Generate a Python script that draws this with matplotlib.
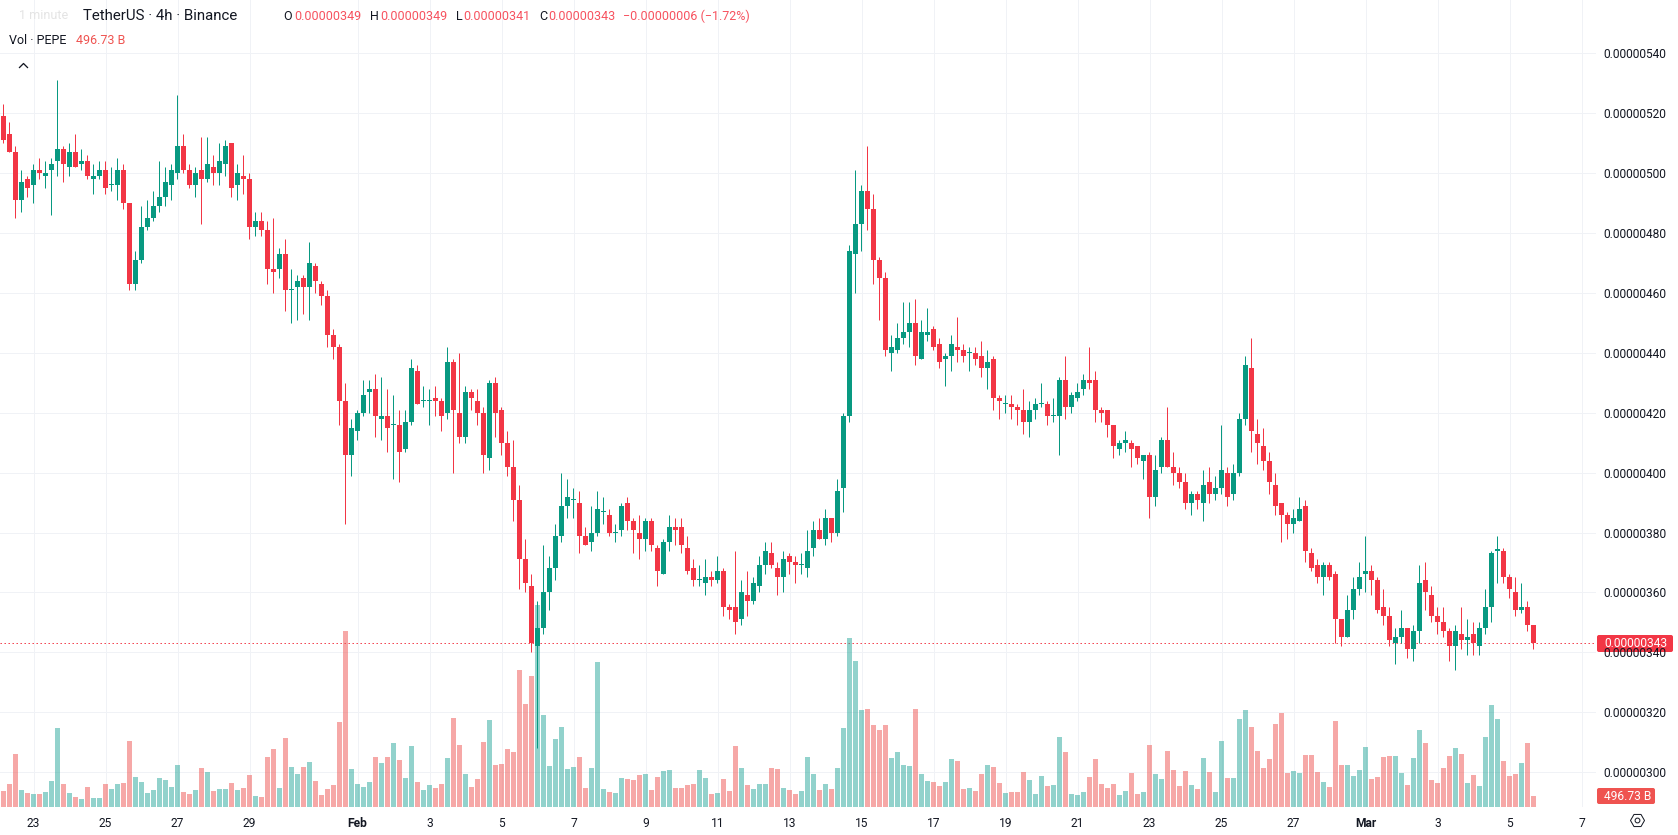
#!/usr/bin/python3

'''
PEPE/USDT 4h candlestick chart with volume overlay
'''

import numpy as np
import matplotlib
matplotlib.use('Agg')
import matplotlib.pyplot as plt
from matplotlib.patches import Circle, FancyBboxPatch, Polygon, Rectangle, RegularPolygon
from matplotlib.lines import Line2D
from matplotlib.transforms import Affine2D

# prices in units of 0.00000001 USDT
opens = [519, 513, 507, 491, 498, 496, 501, 499, 501, 504,
         508, 502, 507, 503, 504, 498, 499, 501, 496, 496,
         501, 490, 463, 471, 482, 485, 489, 492, 496, 500,
         509, 501, 496, 501, 498, 502, 500, 503, 510, 496,
         499, 498, 482, 484, 481, 468, 468, 473, 461, 462,
         465, 462, 469, 463, 459, 446, 442, 424, 406, 414,
         420, 427, 428, 418, 419, 416, 416, 408, 417, 434,
         424, 424, 425, 424, 420, 437, 420, 412, 427, 424,
         420, 405, 430, 421, 410, 402, 391, 371, 362, 342,
         348, 360, 368, 379, 389, 391, 390, 379, 377, 380,
         387, 386, 380, 381, 390, 384, 380, 378, 384, 375,
         366, 377, 382, 382, 375, 368, 364, 363, 365, 364,
         367, 355, 355, 351, 359, 357, 362, 369, 373, 368,
         365, 372, 370, 369, 368, 375, 381, 378, 385, 380,
         395, 419, 473, 483, 494, 488, 471, 465, 440, 441,
         445, 447, 450, 438, 446, 448, 443, 438, 439, 442,
         441, 440, 440, 439, 435, 438, 425, 423, 423, 422,
         421, 417, 421, 423, 423, 419, 419, 431, 422, 425,
         428, 431, 431, 421, 421, 416, 408, 410, 410, 409,
         404, 406, 392, 402, 411, 402, 400, 397, 390, 393,
         390, 397, 393, 395, 400, 393, 400, 418, 435, 413,
         409, 404, 396, 390, 386, 383, 384, 389, 373, 369,
         365, 369, 366, 351, 345, 354, 361, 366, 367, 364,
         355, 352, 343, 345, 348, 341, 347, 364, 359, 352,
         350, 347, 342, 346, 344, 346, 342, 348, 355, 374,
         374, 365, 360, 354, 355, 349]
closes = [511, 507, 491, 497, 495, 501, 500, 500, 503, 508,
          503, 507, 502, 504, 499, 499, 501, 495, 496, 501,
          490, 463, 471, 482, 485, 489, 492, 497, 501, 509,
          501, 496, 500, 498, 503, 500, 504, 509, 495, 500,
          498, 482, 484, 481, 468, 467, 473, 461, 461, 464,
          462, 470, 464, 459, 446, 442, 424, 406, 415, 420,
          426, 428, 419, 419, 415, 416, 407, 417, 435, 423,
          424, 424, 424, 419, 437, 421, 412, 427, 425, 420,
          406, 430, 420, 410, 402, 391, 371, 363, 343, 348,
          360, 368, 379, 389, 392, 391, 379, 376, 380, 388,
          387, 380, 380, 389, 384, 381, 378, 384, 376, 367,
          377, 382, 381, 376, 367, 364, 364, 365, 364, 367,
          355, 354, 350, 360, 357, 363, 369, 374, 369, 365,
          371, 370, 369, 369, 374, 381, 378, 385, 380, 394,
          419, 474, 483, 494, 488, 471, 465, 441, 442, 445,
          447, 450, 439, 447, 447, 442, 437, 439, 443, 441,
          439, 440, 438, 435, 437, 425, 424, 423, 422, 421,
          417, 421, 423, 423, 419, 419, 431, 422, 426, 427,
          431, 430, 421, 420, 416, 409, 410, 411, 408, 405,
          406, 392, 401, 411, 402, 400, 397, 390, 393, 391,
          396, 393, 395, 401, 392, 400, 418, 436, 414, 410,
          404, 397, 389, 386, 383, 385, 388, 374, 368, 365,
          369, 365, 351, 345, 354, 361, 365, 367, 364, 354,
          352, 344, 345, 348, 341, 347, 363, 360, 352, 350,
          347, 342, 347, 344, 345, 343, 348, 355, 373, 374,
          365, 361, 354, 355, 349, 343]
highs = [523, 517, 509, 501, 499, 503, 505, 504, 505, 531,
         509, 510, 513, 508, 506, 503, 504, 504, 502, 505,
         503, 490, 474, 489, 491, 494, 504, 502, 503, 526,
         513, 503, 502, 512, 512, 506, 510, 511, 510, 503,
         506, 500, 487, 487, 484, 485, 475, 478, 468, 466,
         466, 477, 470, 464, 461, 448, 443, 430, 418, 421,
         431, 431, 433, 432, 428, 426, 421, 421, 438, 436,
         429, 428, 429, 425, 442, 438, 440, 429, 428, 428,
         422, 431, 432, 422, 414, 411, 396, 378, 366, 357,
         376, 372, 383, 400, 398, 395, 394, 382, 389, 394,
         392, 388, 383, 390, 392, 385, 386, 385, 385, 376,
         378, 386, 385, 385, 379, 371, 369, 371, 367, 372,
         368, 356, 374, 364, 367, 365, 372, 377, 377, 370,
         374, 373, 372, 373, 381, 384, 385, 388, 385, 398,
         420, 476, 501, 496, 509, 493, 472, 467, 446, 450,
         457, 457, 458, 451, 455, 449, 445, 440, 446, 452,
         443, 442, 442, 444, 441, 439, 426, 426, 426, 423,
         428, 424, 425, 430, 424, 425, 432, 439, 427, 430,
         433, 442, 434, 422, 421, 416, 411, 414, 411, 409,
         406, 407, 406, 412, 422, 407, 402, 400, 394, 394,
         401, 402, 399, 416, 402, 403, 420, 439, 445, 418,
         415, 407, 400, 390, 387, 388, 392, 391, 375, 371,
         370, 370, 367, 351, 359, 365, 370, 379, 369, 365,
         361, 355, 348, 354, 348, 349, 369, 370, 362, 355,
         355, 348, 349, 355, 351, 350, 350, 361, 374, 379,
         375, 366, 365, 363, 357, 349]
lows = [510, 507, 485, 487, 492, 490, 498, 495, 486, 499,
        497, 499, 502, 501, 498, 493, 498, 493, 494, 491,
        488, 461, 461, 470, 481, 484, 487, 489, 491, 498,
        500, 495, 492, 483, 497, 496, 496, 499, 492, 491,
        493, 478, 479, 479, 463, 460, 465, 454, 450, 451,
        453, 451, 460, 456, 442, 438, 416, 383, 399, 411,
        419, 420, 412, 411, 407, 398, 397, 407, 416, 423,
        422, 416, 419, 414, 418, 400, 410, 410, 421, 416,
        400, 401, 412, 406, 399, 384, 361, 360, 340, 308,
        346, 354, 364, 377, 385, 385, 373, 376, 374, 379,
        383, 379, 377, 379, 381, 373, 371, 374, 374, 362,
        366, 374, 376, 373, 366, 362, 362, 359, 362, 363,
        352, 351, 346, 349, 352, 356, 360, 366, 368, 359,
        360, 366, 363, 366, 365, 372, 378, 376, 377, 379,
        387, 417, 460, 474, 481, 463, 451, 439, 434, 440,
        443, 442, 436, 438, 444, 441, 435, 429, 434, 437,
        437, 434, 436, 432, 428, 421, 418, 420, 418, 416,
        413, 412, 418, 422, 416, 417, 406, 418, 420, 424,
        426, 428, 417, 417, 412, 405, 406, 407, 402, 403,
        398, 385, 389, 400, 402, 396, 395, 388, 386, 388,
        384, 390, 391, 393, 389, 391, 399, 416, 407, 403,
        401, 393, 386, 377, 378, 380, 384, 370, 367, 363,
        359, 364, 343, 342, 345, 351, 359, 360, 359, 353,
        349, 342, 336, 343, 338, 337, 343, 354, 350, 346,
        345, 337, 334, 341, 339, 339, 339, 346, 350, 363,
        363, 358, 352, 353, 347, 341]
# volume in billions of PEPE
volumes = [722, 1038, 2393, 768, 632, 587, 587, 677, 1174, 3567,
           1038, 632, 452, 361, 903, 406, 406, 1038, 813, 1038,
           1084, 2980, 1355, 1129, 632, 768, 1309, 1219, 903, 1896,
           677, 587, 768, 1761, 1580, 722, 813, 813, 1084, 768,
           858, 1445, 497, 452, 2258, 2619, 858, 3115, 1806, 1490,
           1806, 2032, 1174, 542, 813, 993, 3838, 7946, 1716, 1038,
           903, 1129, 2258, 1987, 2258, 2890, 2122, 1309, 2754, 1129,
           768, 993, 858, 1038, 2212, 4018, 2799, 1490, 903, 1264,
           2935, 3928, 1896, 1941, 2619, 2483, 6186, 4650, 5915, 9120,
           4154, 1851, 3070, 3612, 1716, 1806, 2258, 858, 1761, 6547,
           813, 677, 632, 1309, 1264, 1219, 1445, 1490, 768, 1355,
           1625, 1671, 858, 858, 993, 1038, 1671, 1309, 587, 632,
           1264, 722, 2754, 1761, 993, 813, 1038, 1038, 1761, 1716,
           858, 768, 587, 722, 2258, 1490, 768, 1038, 813, 1761,
           3567, 7630, 6592, 4380, 4425, 3702, 3477, 3702, 2212, 2483,
           1896, 1851, 4425, 1490, 1174, 1129, 948, 1129, 2167, 2077,
           813, 858, 722, 1490, 1896, 1806, 1084, 632, 677, 677,
           1580, 1219, 587, 1400, 948, 993, 3160, 2483, 587, 542,
           677, 1355, 2167, 1038, 858, 1038, 542, 722, 1535, 587,
           677, 2799, 1490, 1264, 2528, 1671, 948, 1625, 993, 813,
           2212, 1580, 677, 2980, 1309, 1309, 3973, 4380, 3612, 2528,
           1761, 2167, 3747, 4244, 1535, 1625, 1535, 2348, 2348, 1580,
           1129, 903, 3883, 1896, 1896, 1400, 1671, 2709, 1264, 1355,
           2258, 2303, 2303, 1535, 993, 2212, 3477, 2890, 1219, 1084,
           1761, 2303, 2664, 2393, 1084, 1445, 948, 3160, 4605, 3973,
           2077, 1400, 1490, 1987, 2890, 496.73]

dayTicks = [5, 17, 29, 41, 59, 71, 83, 95, 107, 119, 131, 143, 155, 167, 179, 191, 203, 215, 227, 239, 251, 263]
dayLabels = ['23', '25', '27', '29', 'Feb', '3', '5', '7', '9', '11', '13', '15', '17', '19', '21', '23', '25', '27',
             'Mar', '3', '5', '7']
priceTicks = [300, 320, 340, 360, 380, 400, 420, 440, 460, 480, 500, 520, 540]
lastPrice = 343
lastVolume = '496.73 B'

green, red = '#089981', '#F23645'
volGreen, volRed = '#26A69A', '#EF5350'
gridCol, textCol = '#F0F2F6', '#131722'
pxFont = 0.72  # points per pixel at 100 dpi

plt.rcParams['font.family'] = ['Roboto', 'DejaVu Sans']

fig = plt.figure(figsize=(16.78, 8.35), dpi=100, facecolor='white')
toPx = Affine2D().scale(1, -1).translate(0, 835)  # canvas pixels, origin top left

pos = [0, 28 / 835, 1596 / 1678, 807 / 835]
x = np.arange(len(opens))
opens, closes, highs, lows = map(np.array, (opens, closes, highs, lows))
isUp = closes >= opens
xLim = (-3.5 / 6, (1596 - 3.5) / 6)
yLim = (340 - 154.7 / 2.994, 340 + 652.3 / 2.994)

# bottom layer: grid and axis labels
ax = fig.add_axes(pos)
ax.set_xlim(xLim)
ax.set_ylim(yLim)
ax.set_xticks(dayTicks, dayLabels)
ax.set_yticks(priceTicks, [f'{p * 1e-8:.8f}' for p in priceTicks])
ax.yaxis.tick_right()
ax.grid(True, color=gridCol, lw=1 * pxFont)
ax.set_axisbelow(True)
ax.tick_params(axis='both', length=0, labelsize=12 * pxFont, labelcolor=textCol)
ax.tick_params(axis='x', pad=7.5)
ax.tick_params(axis='y', pad=5.5)
for lab in ax.get_xticklabels():
    if lab.get_text() in ('Feb', 'Mar'):
        lab.set_fontweight('bold')
for spine in ax.spines.values():
    spine.set_visible(False)
ax.axhline(lastPrice, color=red, lw=1 * pxFont, ls=(0, (1.4, 2.6)), zorder=1.5)

# volume on its own scale, 496.73 B is 11 pixels tall
axVol = ax.twinx()
axVol.set_ylim(0, 807 * 496.73 / 11)
axVol.bar(x, volumes, width=5 / 6, color=np.where(isUp, volGreen, volRed), alpha=0.5, linewidth=0)
axVol.set_yticks([])

# candles share the price scale
axCandle = ax.twinx()
axCandle.set_ylim(yLim)
axCandle.set_yticks([])
axCandle.vlines(x, lows, highs, colors=np.where(isUp, green, red), lw=1 * pxFont)
axCandle.bar(x, np.maximum(np.abs(closes - opens), 0.34), bottom=np.minimum(opens, closes), width=5 / 6,
             color=np.where(isUp, green, red), linewidth=0)
ax.yaxis.tick_right()
ax.set_zorder(1)
axVol.set_zorder(2)
axCandle.set_zorder(3)
for a in (axVol, axCandle):
    a.patch.set_visible(False)
    for spine in a.spines.values():
        spine.set_visible(False)


def putText(px, py, s, color=textCol, size=12, **kwargs):
    fig.text(px, py, s, transform=toPx, color=color, fontsize=size * pxFont, va='center', **kwargs)


# header
tradeRed = '#F7525F'
putText(83, 16, 'TetherUS · 4h · Binance', size=15)
fig.add_artist(Circle((266, 16), 8.5, transform=toPx, fc='#D9F0EC', ec='none'))
fig.add_artist(Circle((266, 16), 4, transform=toPx, fc=green, ec='none'))
for lx, vx, letter, val in [(283.5, 294.5, 'O', '0.00000349'), (370, 380, 'H', '0.00000349'),
                            (456, 463.5, 'L', '0.00000341'), (539, 548, 'C', '0.00000343')]:
    putText(lx, 16, letter, size=12.5)
    putText(vx, 16, val, color=tradeRed, size=12.5)
putText(623, 16, '−0.00000006 (−1.72%)', color=tradeRed, size=12.5)
putText(9, 40.5, 'Vol · PEPE', size=12.5)
putText(76, 40.5, lastVolume, color=volRed, size=12.5)

# tooltip over the symbol name
fig.add_artist(FancyBboxPatch((11, 6), 66, 19, boxstyle='round,pad=2,rounding_size=3', transform=toPx,
                              fc='#2A2A2C', ec='none'))
fig.add_artist(Polygon([(15, 4), (20, 0), (25, 4)], transform=toPx, fc='#2A2A2C', ec='none'))
putText(44, 15.5, '1 minute', color='#E4E4E4', size=12.5, ha='center')

# collapse button
fig.add_artist(FancyBboxPatch((11.5, 58), 24, 15.5, boxstyle='round,pad=2,rounding_size=3', transform=toPx,
                              fc='white', ec='#E0E3EB', lw=1 * pxFont))
fig.add_artist(Line2D([19.5, 23.5, 27.5], [67.5, 63.5, 67.5], transform=toPx, color=textCol, lw=1.3 * pxFont))

# logo badge
fig.add_artist(Circle((29.7, 775), 16, transform=toPx, fc='white', ec='#EDEEF1', lw=1.4 * pxFont))
fig.add_artist(Polygon([(18.5, 770), (29, 770), (29, 781), (24, 781), (24, 775), (18.5, 775)], transform=toPx,
                       fc='#111111', ec='none'))
fig.add_artist(Circle((32.3, 772.4), 2.4, transform=toPx, fc='#111111', ec='none'))
fig.add_artist(Polygon([(35.5, 770), (41.5, 770), (35, 781), (29.5, 781)], transform=toPx, fc='#111111', ec='none'))

# last price and last volume tags
fig.add_artist(FancyBboxPatch((1598, 636), 74, 15, boxstyle='round,pad=1,rounding_size=2', transform=toPx,
                              fc=red, ec='none'))
putText(1604, 643.5, f'{lastPrice * 1e-8:.8f}', color='white')
fig.add_artist(FancyBboxPatch((1598, 789), 56, 14, boxstyle='round,pad=1,rounding_size=2', transform=toPx,
                              fc=volRed, ec='none'))
putText(1604, 796, lastVolume, color='white')

# settings icon on the time scale
fig.add_artist(RegularPolygon((1637.5, 820.5), 6, radius=7, orientation=np.pi / 6, transform=toPx, fc='white',
                              ec=textCol, lw=1 * pxFont))
fig.add_artist(Circle((1637.5, 820.5), 2.4, transform=toPx, fc='white', ec=textCol, lw=1 * pxFont))

fig.savefig('out.png', dpi=100)
